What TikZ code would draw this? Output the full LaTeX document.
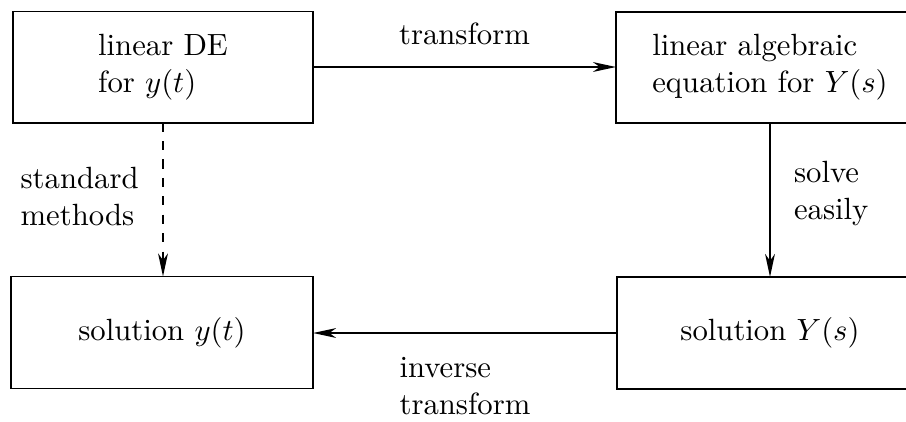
\documentclass[tikz,border=0pt]{standalone}
\usetikzlibrary{arrows.meta}
\begin{document}
\begin{tikzpicture}[x=0.3257pt,y=-0.3257pt,
  line width=0.6pt,
  box/.style={draw, rectangle, inner sep=0pt, outer sep=0pt, align=left},
  conn/.style={-{Stealth[length=7.5pt,width=3.2pt,inset=2.2pt]}},
  lbl/.style={align=left}]
\useasboundingbox (0,0) rectangle (906,421);
\node[box, minimum width=97.7pt, minimum height=36.2pt] (TL) at (163,67) {linear DE\\for $y(t)$};
\node[box, minimum width=100.3pt, minimum height=36.2pt] (TR) at (770,67.5) {linear algebraic\\equation for $Y(s)$};
\node[box, minimum width=98.4pt, minimum height=36.5pt] (BL) at (162,332.5) {solution $y(t)$};
\node[box, minimum width=99.7pt, minimum height=36.5pt] (BR) at (770,333) {solution $Y(s)$};
\draw[conn] (TL.east) -- (TL.east -| TR.west)
  node[midway, above=3.6pt] (lt) {transform};
\draw[conn] (TR.south) -- (BR.north)
  node[midway, right=4.2pt, yshift=2pt, lbl] (ls) {solve\\easily};
\draw[conn] (BR.west) -- (BR.west -| BL.east)
  node[midway, below=4.4pt, lbl] (li) {inverse\\transform};
\draw[conn, dashed] (TL.south) -- (TL.south |- BL.north)
  node[midway, left=4.3pt, yshift=1pt, lbl] (lm) {standard\\methods};
\end{tikzpicture}
\end{document}
